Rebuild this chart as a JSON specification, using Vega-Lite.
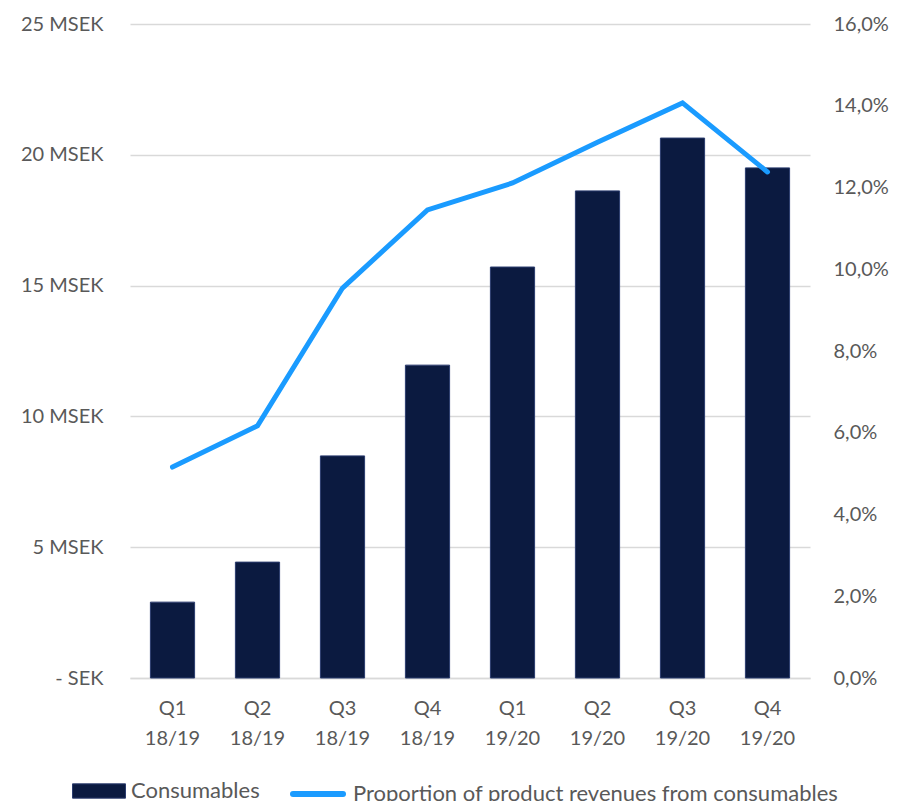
{
  "$schema": "https://vega.github.io/schema/vega-lite/v6.json",
  "width": 680,
  "height": 654,
  "autosize": {"type": "none"},
  "padding": {"left": 130, "top": 24, "right": 87, "bottom": 123},
  "background": "white",
  "config": {
    "font": "Lato",
    "view": {"stroke": null},
    "axis": {"labelFont": "Lato", "labelFontSize": 20, "labelColor": "#595959"},
    "legend": {"labelFont": "Lato", "labelFontSize": 22, "labelColor": "#595959", "labelLimit": 0, "padding": 0}
  },
  "data": {
    "values": [
      {"quarter": "Q1 18/19", "consumables": 2.9, "share": 5.16},
      {"quarter": "Q2 18/19", "consumables": 4.43, "share": 6.17},
      {"quarter": "Q3 18/19", "consumables": 8.49, "share": 9.54},
      {"quarter": "Q4 18/19", "consumables": 11.96, "share": 11.45},
      {"quarter": "Q1 19/20", "consumables": 15.71, "share": 12.11},
      {"quarter": "Q2 19/20", "consumables": 18.62, "share": 13.11},
      {"quarter": "Q3 19/20", "consumables": 20.64, "share": 14.07},
      {"quarter": "Q4 19/20", "consumables": 19.5, "share": 12.38}
    ]
  },
  "encoding": {
    "x": {
      "field": "quarter",
      "type": "nominal",
      "sort": null,
      "title": null,
      "scale": {"paddingInner": 0.48, "paddingOuter": 0.24},
      "axis": {
        "labelExpr": "split(datum.value, ' ')",
        "labelAngle": 0,
        "labelLineHeight": 30,
        "labelPadding": 20,
        "ticks": false,
        "domainColor": "#d9d9d9",
        "domainWidth": 1.5,
        "grid": false
      }
    }
  },
  "layer": [
    {
      "mark": {"type": "bar", "stroke": "#2b3c6e", "strokeWidth": 1},
      "encoding": {
        "y": {
          "field": "consumables",
          "type": "quantitative",
          "title": null,
          "scale": {"domain": [0, 25], "nice": false},
          "axis": {
            "values": [0, 5, 10, 15, 20, 25],
            "labelExpr": "datum.value == 0 ? '- SEK' : datum.value + ' MSEK'",
            "domain": false,
            "ticks": false,
            "labelPadding": 27,
            "grid": true,
            "gridColor": "#d9d9d9",
            "gridWidth": 1.5
          }
        },
        "fill": {
          "datum": "Consumables",
          "type": "nominal",
          "scale": {"range": ["#0b1a40"]},
          "legend": {
            "title": null,
            "orient": "none",
            "legendX": -58,
            "legendY": 740,
            "labelOffset": 5,
            "symbolType": "M-1,-0.27H1V0.27H-1Z",
            "symbolSize": 2809,
            "symbolStrokeColor": "#2b3c6e",
            "symbolStrokeWidth": 1,
            "symbolOpacity": 1
          }
        }
      }
    },
    {
      "mark": {"type": "line", "strokeWidth": 5, "strokeCap": "round"},
      "encoding": {
        "y": {
          "field": "share",
          "type": "quantitative",
          "title": null,
          "scale": {"domain": [0, 16], "nice": false},
          "axis": {
            "orient": "right",
            "values": [0, 2, 4, 6, 8, 10, 12, 14, 16],
            "labelExpr": "replace(format(datum.value, '.1f'), '.', ',') + '%'",
            "domain": false,
            "ticks": false,
            "grid": false,
            "labelPadding": 23
          }
        },
        "stroke": {
          "datum": "Proportion of product revenues from consumables",
          "type": "nominal",
          "scale": {"range": ["#1a9bff"]},
          "legend": {
            "title": null,
            "orient": "none",
            "legendX": 160,
            "legendY": 742,
            "labelOffset": 7,
            "symbolType": "M-1,0H1",
            "symbolSize": 2500,
            "symbolStrokeWidth": 6,
            "symbolFillColor": "transparent",
            "symbolOpacity": 1,
            "encode": {"symbols": {"update": {"strokeCap": {"value": "round"}}}}
          }
        }
      }
    }
  ],
  "resolve": {"scale": {"y": "independent"}}
}
